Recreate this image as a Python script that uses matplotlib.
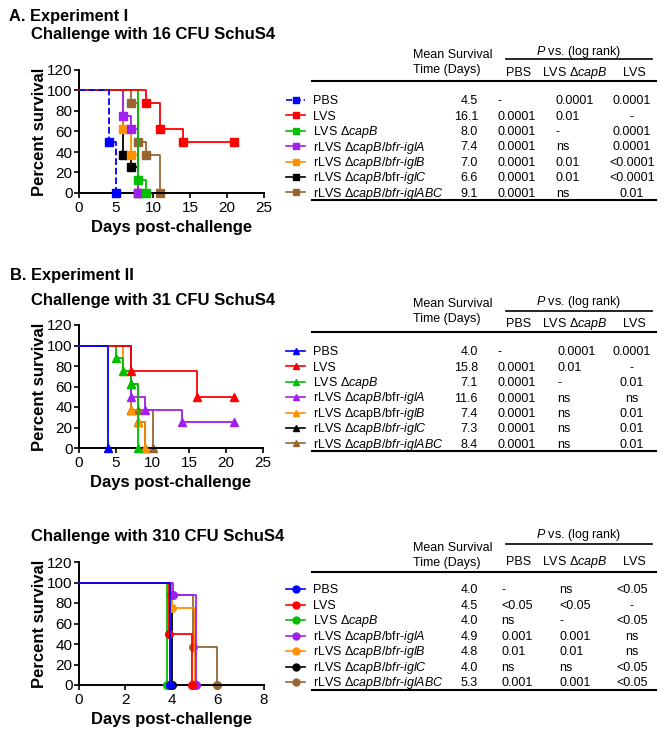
import matplotlib
matplotlib.use('Agg')
import matplotlib.pyplot as plt
from matplotlib.lines import Line2D

plt.rcParams['font.family'] = ['Liberation Sans', 'DejaVu Sans']
plt.rcParams['mathtext.fontset'] = 'custom'
plt.rcParams['mathtext.rm'] = 'Liberation Sans'
plt.rcParams['mathtext.it'] = 'Liberation Sans:italic'
plt.rcParams['mathtext.bf'] = 'Liberation Sans:bold'

# ---------------- data ----------------
group_colors = ['#0000FF', '#FF0000', '#00C000', '#A020F0', '#FF9000', '#000000', '#996633']

# Experiment I, 16 CFU (survival steps: day, percent)
exp1_days = [[0, 4, 5], [0, 9, 11, 14, 21], [0, 8, 9], [0, 6, 7, 8],
             [0, 6, 7, 8], [0, 6, 7, 8], [0, 7, 8, 9, 11]]
exp1_surv = [[100, 50, 0], [100, 87.5, 62.5, 50, 50], [100, 12.5, 0], [100, 75, 62.5, 0],
             [100, 62.5, 37.5, 0], [100, 37.5, 25, 0], [100, 87.5, 50, 37.5, 0]]
exp1_labels = ["PBS", "LVS", r"LVS $\mathit{ΔcapB}$",
               r"rLVS $\mathit{ΔcapB/bfr}$-$\mathit{iglA}$",
               r"rLVS $\mathit{ΔcapB/bfr}$-$\mathit{iglB}$",
               r"rLVS $\mathit{ΔcapB}$/bfr-$\mathit{iglC}$",
               r"rLVS $\mathit{ΔcapB/bfr}$-$\mathit{iglABC}$"]
exp1_mean = ["4.5", "16.1", "8.0", "7.4", "7.0", "6.6", "9.1"]
exp1_p_pbs = ["-", "0.0001", "0.0001", "0.0001", "0.0001", "0.0001", "0.0001"]
exp1_p_capb = ["0.0001", "0.01", "-", "ns", "0.01", "0.01", "ns"]
exp1_p_lvs = ["0.0001", "-", "0.0001", "0.0001", "<0.0001", "<0.0001", "0.01"]

# Experiment II, 31 CFU
exp2_days = [[0, 4], [0, 7, 16, 21], [0, 5, 6, 7, 8], [0, 7, 9, 14, 21],
             [0, 6, 7, 8, 9], [0, 7, 8, 9], [0, 7, 8, 10]]
exp2_surv = [[100, 0], [100, 75, 50, 50], [100, 87.5, 75, 62.5, 0], [100, 50, 37.5, 25, 25],
             [100, 75, 37.5, 25, 0], [100, 37.5, 25, 0], [100, 62.5, 37.5, 0]]
exp2_labels = ["PBS", "LVS", r"LVS $\mathit{ΔcapB}$",
               r"rLVS $\mathit{ΔcapB}$/bfr-$\mathit{iglA}$",
               r"rLVS ΔcapB/bfr-$\mathit{iglB}$",
               r"rLVS $\mathit{ΔcapB/bfr}$-$\mathit{iglC}$",
               r"rLVS $\mathit{ΔcapB/bfr}$-$\mathit{iglABC}$"]
exp2_mean = ["4.0", "15.8", "7.1", "11.6", "7.4", "7.3", "8.4"]
exp2_p_pbs = ["-", "0.0001", "0.0001", "0.0001", "0.0001", "0.0001", "0.0001"]
exp2_p_capb = ["0.0001", "0.01", "-", "ns", "ns", "ns", "ns"]
exp2_p_lvs = ["0.0001", "-", "0.01", "ns", "0.01", "0.01", "0.01"]

# Experiment II, 310 CFU
exp3_days = [[0, 4], [0, 4, 5], [0, 4], [0, 4, 5], [0, 4, 5], [0, 4], [0, 4, 5, 6]]
exp3_surv = [[100, 0], [100, 50, 0], [100, 0], [100, 87.5, 0], [100, 75, 0], [100, 0],
             [100, 87.5, 37.5, 0]]
exp3_labels = ["PBS", "LVS", r"LVS $\mathit{ΔcapB}$",
               r"rLVS $\mathit{ΔcapB}$/bfr-$\mathit{iglA}$",
               r"rLVS $\mathit{ΔcapB/bfr}$-$\mathit{iglB}$",
               r"rLVS $\mathit{ΔcapB/bfr}$-$\mathit{iglC}$",
               r"rLVS $\mathit{ΔcapB/bfr}$-$\mathit{iglABC}$"]
exp3_mean = ["4.0", "4.5", "4.0", "4.9", "4.8", "4.0", "5.3"]
exp3_p_pbs = ["-", "<0.05", "ns", "0.001", "0.01", "ns", "0.001"]
exp3_p_capb = ["ns", "<0.05", "-", "0.001", "0.01", "ns", "0.001"]
exp3_p_lvs = ["<0.05", "-", "<0.05", "ns", "ns", "<0.05", "<0.05"]

# ---------------- figure ----------------
W, H = 667, 739
fig = plt.figure(figsize=(W / 100, H / 100), dpi=100)


def fx(x):
    return x / W


def fy(y):
    return 1 - y / H


def px_axes(l, t, r, b):
    return fig.add_axes([fx(l), fy(b), (r - l) / W, (b - t) / H])


draw_order = [6, 5, 4, 3, 2, 1, 0]


def survival_panel(ax, days, surv, marker, xmax, xticks, dodge=None, dashed_pbs=False, msize=5.5):
    for z, i in enumerate(draw_order):
        d = days[i]
        if dodge is not None:
            d = [v + (dodge[i] if v > 0 else 0) for v in d]
        ls = '--' if (dashed_pbs and i == 0) else '-'
        ax.plot(d, surv[i], drawstyle='steps-post', color=group_colors[i], lw=1.3,
                ls=ls, zorder=2 + z, clip_on=False)
        ax.plot(d[1:], surv[i][1:], ls='none', marker=marker, ms=msize,
                color=group_colors[i], zorder=2 + z, clip_on=False)
    ax.set_xlim(0, xmax)
    ax.set_ylim(0, 120)
    ax.set_xticks(xticks)
    ax.set_yticks([0, 20, 40, 60, 80, 100, 120])
    for s in ['top', 'right']:
        ax.spines[s].set_visible(False)
    for s in ['left', 'bottom']:
        ax.spines[s].set_linewidth(1.4)
    ax.tick_params(axis='both', length=3.5, width=1.2, labelsize=11)
    ax.tick_params(axis='y', pad=1)
    ax.tick_params(axis='x', pad=2)


def axis_labels(l, t, r, b):
    fig.text(fx(39), fy((t + b) / 2), "Percent survival", rotation=90, ha='center',
             va='center', fontsize=12, fontweight='bold')
    fig.text(fx((l + r) / 2), fy(b + 39), "Days post-challenge", ha='center',
             va='baseline', fontsize=12, fontweight='bold')


# Panel A
axA = px_axes(79, 70, 264, 193)
survival_panel(axA, exp1_days, exp1_surv, 's', 25, [0, 5, 10, 15, 20, 25], dashed_pbs=True)
axis_labels(79, 70, 264, 193)
# Panel B top
axB = px_axes(79, 325, 263, 448)
survival_panel(axB, exp2_days, exp2_surv, '^', 25, [0, 5, 10, 15, 20, 25], msize=6)
axis_labels(79, 325, 263, 448)
# Panel B bottom
axC = px_axes(79, 562, 264, 685)
dodge3 = [-0.07, -0.12, -0.2, 0.08, 0.0, 0.0, -0.05]
survival_panel(axC, exp3_days, exp3_surv, 'o', 8, [0, 2, 4, 6, 8], dodge=dodge3)
axis_labels(79, 562, 264, 685)

# titles
fig.text(fx(9), fy(21), "A. Experiment I", fontsize=11.8, fontweight='bold', va='baseline')
fig.text(fx(31), fy(38.5), "Challenge with 16 CFU SchuS4", fontsize=12, fontweight='bold', va='baseline')
fig.text(fx(10), fy(280), "B. Experiment II", fontsize=11.8, fontweight='bold', va='baseline')
fig.text(fx(31), fy(304.5), "Challenge with 31 CFU SchuS4", fontsize=12, fontweight='bold', va='baseline')
fig.text(fx(31), fy(541.5), "Challenge with 310 CFU SchuS4", fontsize=12, fontweight='bold', va='baseline')


# ---------------- tables ----------------
def hline(x0, x1, y, lw):
    fig.add_artist(Line2D([fx(x0), fx(x1)], [fy(y), fy(y)], transform=fig.transFigure,
                          color='black', lw=lw))


def table(geo, labels, means, p_pbs, p_capb, p_lvs, marker, dashed_pbs=False):
    fs = 9
    bl = 4.3  # baseline offset from visual centre
    fig.text(fx(413), fy(geo['ms'] + bl), "Mean Survival", fontsize=fs, va='baseline')
    fig.text(fx(413), fy(geo['td'] + bl), "Time (Days)", fontsize=fs, va='baseline')
    fig.text(fx(579), fy(geo['pvs'] + bl), r"$\mathit{P}$ vs. (log rank)", fontsize=fs,
             va='baseline', ha='center')
    hline(506, 652, geo['pline'], 1.2)
    fig.text(fx(519), fy(geo['hdr'] + bl), "PBS", fontsize=fs, va='baseline', ha='center')
    fig.text(fx(575), fy(geo['hdr'] + bl), r"LVS $\mathit{ΔcapB}$", fontsize=fs, va='baseline', ha='center')
    fig.text(fx(634), fy(geo['hdr'] + bl), "LVS", fontsize=fs, va='baseline', ha='center')
    hline(312, 656, geo['thick'], 1.5)
    for i in range(len(labels)):
        y = geo['row0'] + geo['dy'] * i
        ls = '--' if (dashed_pbs and i == 0) else '-'
        fig.add_artist(Line2D([fx(286), fx(305)], [fy(y), fy(y)], transform=fig.transFigure,
                              color=group_colors[i], lw=1.2, ls=ls))
        fig.add_artist(Line2D([fx(295.5)], [fy(y)], transform=fig.transFigure,
                              color=group_colors[i], marker=marker, ms=5, ls='none'))
        fig.text(fx(313), fy(y + bl), labels[i], fontsize=fs, va='baseline')
        fig.text(fx(478), fy(y + bl), means[i], fontsize=fs, va='baseline', ha='right')
        fig.text(fx(geo['c1']), fy(y + bl), p_pbs[i], fontsize=fs, va='baseline')
        fig.text(fx(geo['c2']), fy(y + bl), p_capb[i], fontsize=fs, va='baseline')
        fig.text(fx(632), fy(y + bl), p_lvs[i], fontsize=fs, va='baseline', ha='center')
    hline(312, 656, geo['bottom'], 1.5)


geoA = dict(ms=54, td=69, pvs=51, pline=59, hdr=72, thick=81, row0=100, dy=15.4, bottom=200, c1=498, c2=556)
geoB = dict(ms=303, td=318, pvs=301, pline=311, hdr=323, thick=332, row0=351, dy=15.4, bottom=451, c1=498, c2=557)
geoC = dict(ms=547, td=562, pvs=534, pline=544, hdr=561, thick=572, row0=589, dy=15.5, bottom=690, c1=501, c2=559)

table(geoA, exp1_labels, exp1_mean, exp1_p_pbs, exp1_p_capb, exp1_p_lvs, 's', dashed_pbs=True)
table(geoB, exp2_labels, exp2_mean, exp2_p_pbs, exp2_p_capb, exp2_p_lvs, '^')
table(geoC, exp3_labels, exp3_mean, exp3_p_pbs, exp3_p_capb, exp3_p_lvs, 'o')

fig.savefig('out.png', dpi=100)
